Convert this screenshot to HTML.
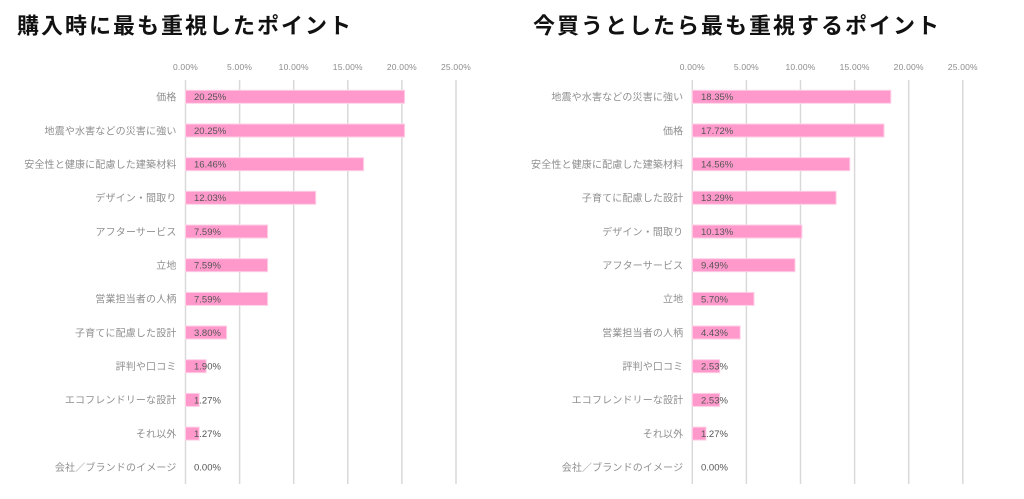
<!DOCTYPE html>
<html><head><meta charset="utf-8"><style>
html,body{margin:0;padding:0;background:#fff;}
svg{display:block;}
.t{font-family:"Liberation Sans","Noto Sans CJK JP",sans-serif;font-weight:700;font-size:22px;letter-spacing:2px;fill:#111;}
.c{font-family:"Liberation Sans","Noto Sans CJK JP",sans-serif;font-size:10px;letter-spacing:0.15px;fill:#8f8f8f;text-anchor:end;}
.k{font-family:"Liberation Sans",sans-serif;font-size:8.5px;letter-spacing:0.2px;fill:#8c8c8c;text-anchor:middle;}
.d{font-family:"Liberation Sans",sans-serif;font-size:9.5px;fill:#555;}
.g{stroke:#d9d9d9;stroke-width:1.5;}
.b{fill:#ff99cc;stroke:#ffcfe6;stroke-width:1;}
</style></head><body>
<svg width="1024" height="499" viewBox="0 0 1024 499" xmlns="http://www.w3.org/2000/svg">
<rect width="1024" height="499" fill="#fff"/>
<!-- LEFT CHART -->
<text class="t" x="17" y="33.5">購入時に最も重視したポイント</text>
<g>
<line class="g" x1="185.5" y1="80" x2="185.5" y2="484"/>
<line class="g" x1="239.6" y1="80" x2="239.6" y2="484"/>
<line class="g" x1="293.7" y1="80" x2="293.7" y2="484"/>
<line class="g" x1="347.8" y1="80" x2="347.8" y2="484"/>
<line class="g" x1="401.9" y1="80" x2="401.9" y2="484"/>
<line class="g" x1="456" y1="80" x2="456" y2="484"/>
</g>
<text class="k" x="185.5" y="70">0.00%</text>
<text class="k" x="239.6" y="70">5.00%</text>
<text class="k" x="293.7" y="70">10.00%</text>
<text class="k" x="347.8" y="70">15.00%</text>
<text class="k" x="401.9" y="70">20.00%</text>
<text class="k" x="456" y="70">25.00%</text>

<rect class="b" x="185.5" y="90.3" width="219.1" height="13"/>
<rect class="b" x="185.5" y="124" width="219.1" height="13"/>
<rect class="b" x="185.5" y="157.7" width="178.1" height="13"/>
<rect class="b" x="185.5" y="191.3" width="130.2" height="13"/>
<rect class="b" x="185.5" y="225" width="82.1" height="13"/>
<rect class="b" x="185.5" y="258.7" width="82.1" height="13"/>
<rect class="b" x="185.5" y="292.4" width="82.1" height="13"/>
<rect class="b" x="185.5" y="326" width="41.1" height="13"/>
<rect class="b" x="185.5" y="359.7" width="20.6" height="13"/>
<rect class="b" x="185.5" y="393.4" width="13.7" height="13"/>
<rect class="b" x="185.5" y="427.1" width="13.7" height="13"/>

<text class="c" x="176.5" y="100.6">価格</text>
<text class="c" x="176.5" y="134.3">地震や水害などの災害に強い</text>
<text class="c" x="176.5" y="168">安全性と健康に配慮した建築材料</text>
<text class="c" x="176.5" y="201.6">デザイン・間取り</text>
<text class="c" x="176.5" y="235.3">アフターサービス</text>
<text class="c" x="176.5" y="269">立地</text>
<text class="c" x="176.5" y="302.7">営業担当者の人柄</text>
<text class="c" x="176.5" y="336.3">子育てに配慮した設計</text>
<text class="c" x="176.5" y="370">評判や口コミ</text>
<text class="c" x="176.5" y="403.7">エコフレンドリーな設計</text>
<text class="c" x="176.5" y="437.4">それ以外</text>
<text class="c" x="176.5" y="471">会社／ブランドのイメージ</text>

<text class="d" x="194" y="100.2">20.25%</text>
<text class="d" x="194" y="133.9">20.25%</text>
<text class="d" x="194" y="167.6">16.46%</text>
<text class="d" x="194" y="201.2">12.03%</text>
<text class="d" x="194" y="234.9">7.59%</text>
<text class="d" x="194" y="268.6">7.59%</text>
<text class="d" x="194" y="302.3">7.59%</text>
<text class="d" x="194" y="335.9">3.80%</text>
<text class="d" x="194" y="369.6">1.90%</text>
<text class="d" x="194" y="403.3">1.27%</text>
<text class="d" x="194" y="437">1.27%</text>
<text class="d" x="194" y="470.6">0.00%</text>

<!-- RIGHT CHART -->
<text class="t" x="533" y="33.5">今買うとしたら最も重視するポイント</text>
<g>
<line class="g" x1="692.3" y1="80" x2="692.3" y2="484"/>
<line class="g" x1="746.4" y1="80" x2="746.4" y2="484"/>
<line class="g" x1="800.5" y1="80" x2="800.5" y2="484"/>
<line class="g" x1="854.6" y1="80" x2="854.6" y2="484"/>
<line class="g" x1="908.7" y1="80" x2="908.7" y2="484"/>
<line class="g" x1="962.8" y1="80" x2="962.8" y2="484"/>
</g>
<text class="k" x="692.3" y="70">0.00%</text>
<text class="k" x="746.4" y="70">5.00%</text>
<text class="k" x="800.5" y="70">10.00%</text>
<text class="k" x="854.6" y="70">15.00%</text>
<text class="k" x="908.7" y="70">20.00%</text>
<text class="k" x="962.8" y="70">25.00%</text>

<rect class="b" x="692.3" y="90.3" width="198.5" height="13"/>
<rect class="b" x="692.3" y="124" width="191.7" height="13"/>
<rect class="b" x="692.3" y="157.7" width="157.5" height="13"/>
<rect class="b" x="692.3" y="191.3" width="143.8" height="13"/>
<rect class="b" x="692.3" y="225" width="109.6" height="13"/>
<rect class="b" x="692.3" y="258.7" width="102.7" height="13"/>
<rect class="b" x="692.3" y="292.4" width="61.7" height="13"/>
<rect class="b" x="692.3" y="326" width="47.9" height="13"/>
<rect class="b" x="692.3" y="359.7" width="27.4" height="13"/>
<rect class="b" x="692.3" y="393.4" width="27.4" height="13"/>
<rect class="b" x="692.3" y="427.1" width="13.7" height="13"/>

<text class="c" x="683.3" y="100.6">地震や水害などの災害に強い</text>
<text class="c" x="683.3" y="134.3">価格</text>
<text class="c" x="683.3" y="168">安全性と健康に配慮した建築材料</text>
<text class="c" x="683.3" y="201.6">子育てに配慮した設計</text>
<text class="c" x="683.3" y="235.3">デザイン・間取り</text>
<text class="c" x="683.3" y="269">アフターサービス</text>
<text class="c" x="683.3" y="302.7">立地</text>
<text class="c" x="683.3" y="336.3">営業担当者の人柄</text>
<text class="c" x="683.3" y="370">評判や口コミ</text>
<text class="c" x="683.3" y="403.7">エコフレンドリーな設計</text>
<text class="c" x="683.3" y="437.4">それ以外</text>
<text class="c" x="683.3" y="471">会社／ブランドのイメージ</text>

<text class="d" x="701" y="100.2">18.35%</text>
<text class="d" x="701" y="133.9">17.72%</text>
<text class="d" x="701" y="167.6">14.56%</text>
<text class="d" x="701" y="201.2">13.29%</text>
<text class="d" x="701" y="234.9">10.13%</text>
<text class="d" x="701" y="268.6">9.49%</text>
<text class="d" x="701" y="302.3">5.70%</text>
<text class="d" x="701" y="335.9">4.43%</text>
<text class="d" x="701" y="369.6">2.53%</text>
<text class="d" x="701" y="403.3">2.53%</text>
<text class="d" x="701" y="437">1.27%</text>
<text class="d" x="701" y="470.6">0.00%</text>
</svg>
</body></html>
